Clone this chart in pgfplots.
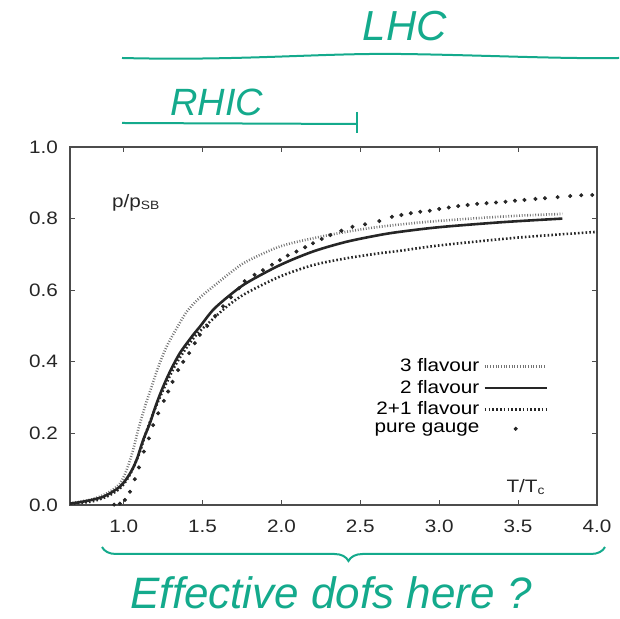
\documentclass[border=0pt]{standalone}
\usepackage{pgfplots}
\pgfplotsset{compat=1.18}
\usepackage{fontspec}
\setmainfont{Liberation Sans}
\newfontfamily\plotfont[FakeStretch=1.15]{Liberation Sans}
\usetikzlibrary{decorations.pathreplacing}
\definecolor{pen}{RGB}{20,170,140}

\pgfplotstableread{
T v
0.66 0.004
0.75 0.010
0.87 0.023
0.976 0.051
1.04 0.088
1.082 0.126
1.124 0.182
1.166 0.228
1.209 0.284
1.25 0.330
1.293 0.372
1.356 0.424
1.44 0.475
1.483 0.498
1.567 0.545
1.67 0.585
1.778 0.620
1.99 0.670
2.20 0.708
2.41 0.735
2.62 0.754
2.75 0.763
3.00 0.776
3.40 0.790
3.78 0.800
}\twoflavour

\pgfplotstableread{
T v
0.66 0.005
0.80 0.016
0.90 0.034
0.976 0.060
1.019 0.098
1.06 0.154
1.092 0.210
1.135 0.275
1.177 0.330
1.22 0.386
1.272 0.442
1.325 0.485
1.40 0.540
1.48 0.578
1.567 0.610
1.68 0.650
1.778 0.680
1.99 0.722
2.20 0.745
2.41 0.763
2.62 0.777
2.90 0.790
3.20 0.800
3.50 0.808
3.78 0.813
}\threeflavour

\pgfplotstableread{
T v
0.66 0.003
0.80 0.010
0.90 0.025
0.98 0.048
1.04 0.085
1.10 0.145
1.14 0.200
1.20 0.270
1.26 0.330
1.34 0.400
1.45 0.470
1.567 0.520
1.67 0.560
1.778 0.592
1.99 0.638
2.20 0.670
2.41 0.689
2.62 0.703
2.75 0.710
3.00 0.725
3.50 0.747
4.00 0.763
}\twoplusone

\pgfplotstableread{
T v
0.94 0.001
0.976 0.004
1.008 0.014
1.04 0.037
1.071 0.072
1.097 0.105
1.128 0.149
1.16 0.186
1.187 0.223
1.219 0.256
1.255 0.291
1.282 0.317
1.31 0.344
1.345 0.377
1.377 0.400
1.415 0.424
1.451 0.452
1.483 0.475
1.53 0.500
1.58 0.528
1.63 0.555
1.68 0.580
1.73 0.605
1.767 0.625
1.83 0.643
1.883 0.656
1.94 0.671
1.99 0.684
2.04 0.697
2.095 0.708
2.15 0.720
2.20 0.731
2.255 0.743
2.31 0.754
2.38 0.766
2.45 0.777
2.53 0.784
2.62 0.793
2.70 0.805
2.76 0.810
2.82 0.815
2.88 0.819
2.94 0.822
3.00 0.827
3.06 0.831
3.12 0.835
3.18 0.838
3.24 0.841
3.30 0.843
3.36 0.845
3.42 0.847
3.48 0.850
3.54 0.852
3.61 0.855
3.67 0.857
3.75 0.860
3.83 0.863
3.90 0.865
3.97 0.866
}\puregauge

\begin{document}
\begin{tikzpicture}
\useasboundingbox (0,0) rectangle (309.5pt,309.5pt);
\begin{axis}[
  at={(35pt,57pt)}, anchor=south west,
  width=263.5pt, height=179pt, scale only axis,
  xmin=0.66, xmax=4.0, ymin=0, ymax=1,
  xtick={1,1.5,2,2.5,3,3.5,4},
  ytick={0,0.2,0.4,0.6,0.8,1},
  tick align=inside, major tick length=2.5pt,
  axis line style={black!70, line width=0.7pt},
  tick style={black!70, line width=0.6pt},
  tick label style={font=\plotfont\fontsize{9}{10}\selectfont, text=black!85},
  xticklabel style={yshift=-4pt},
  yticklabel style={xshift=-2.5pt},
  /pgf/number format/.cd, fixed, fixed zerofill, precision=1, assume math mode=true,
  /pgfplots/.cd,
  legend style={draw=none, fill=none, at={(axis cs:3.73,0.432)}, anchor=north east,
    font=\plotfont\fontsize{9}{10}\selectfont, row sep=-1.4pt,
    /tikz/every even column/.append style={column sep=5pt}},
  legend cell align=right, legend plot pos=right,
  legend image code/.code={\draw[#1] (0pt,0pt) -- (31pt,0pt);},
]
\addplot[black!55, line width=1.3pt, dash pattern=on 0.45pt off 0.9pt, smooth] table[x=T,y=v] {\threeflavour};
\addlegendentry{3 flavour}
\addplot[black!85, line width=1.3pt, smooth] table[x=T,y=v] {\twoflavour};
\addlegendentry{2 flavour}
\addplot[black!85, line width=1.3pt, dash pattern=on 0.8pt off 1.1pt, smooth] table[x=T,y=v] {\twoplusone};
\addlegendentry{2+1 flavour}
\addplot[only marks, mark=*, mark size=0.8pt, black!85,
  legend image code/.code={\path[draw=none,fill=none] (0pt,0pt) -- (31pt,0pt); \fill[black!85] (15.5pt,0pt) circle (0.8pt);}]
  table[x=T,y=v] {\puregauge};
\addlegendentry{pure gauge}
\node[font=\plotfont\fontsize{9}{10}\selectfont, text=black!85] at (axis cs:1.08,0.845) {p/p\textsubscript{SB}};
\node[font=\plotfont\fontsize{9}{10}\selectfont, text=black!85] at (axis cs:3.55,0.05) {T/T\textsubscript{c}};
\end{axis}
% handwritten annotations
\node[pen, font=\fontsize{21}{22}\selectfont\itshape] at (202.5pt,296.5pt) {LHC};
\draw[pen, line width=1pt] (61pt,280.5pt) .. controls (120pt,279pt) and (160pt,283pt) .. (200pt,282.5pt) .. controls (240pt,282pt) and (280pt,280pt) .. (309.5pt,280.5pt);
\node[pen, font=\fontsize{19}{20}\selectfont\itshape] at (108.5pt,258.5pt) {RHIC};
\draw[pen, line width=1pt] (61pt,248pt) -- (178.5pt,247.5pt);
\draw[pen, line width=1.3pt] (178.5pt,253.5pt) -- (178.5pt,243pt);
\draw[pen, line width=1pt, decorate, decoration={brace, mirror, amplitude=7pt, aspect=0.49}] (51pt,36pt) -- (302.5pt,36pt);
\node[pen, font=\fontsize{22}{23}\selectfont\itshape] at (165.5pt,13pt) {Effective dofs here ?};
\end{tikzpicture}
\end{document}
